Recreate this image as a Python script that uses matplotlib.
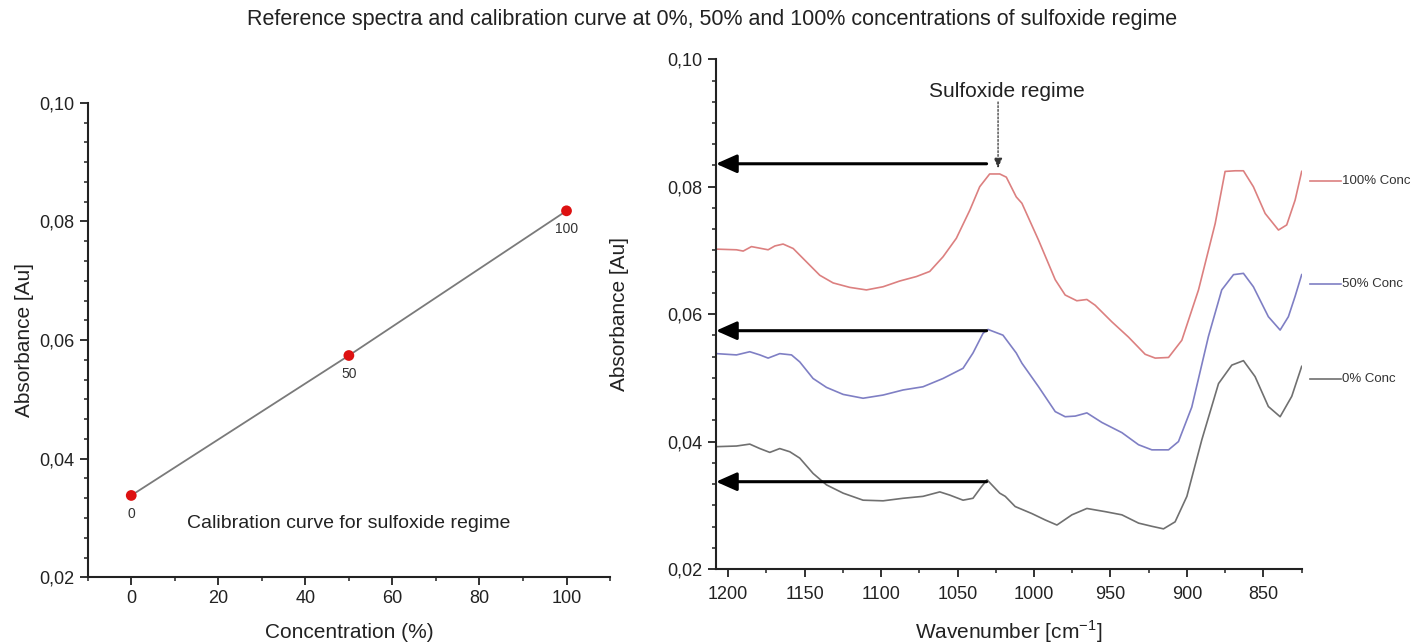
import matplotlib
matplotlib.use('Agg')
import matplotlib.pyplot as plt
from matplotlib.ticker import MultipleLocator, AutoMinorLocator, FuncFormatter
from matplotlib.lines import Line2D
import numpy as np

plt.rcParams['font.family'] = ['Liberation Sans', 'DejaVu Sans']
plt.rcParams['mathtext.fontset'] = 'custom'
plt.rcParams['mathtext.rm'] = 'Liberation Sans'

# calibration curve
conc = [0, 50, 100]
conc_abs = [0.0338, 0.0574, 0.0818]
conc_labels = ['0', '50', '100']

# spectra (wavenumber, absorbance)
wn_100 = [1207.6, 1194.6, 1190.2, 1184.8, 1180.4, 1173.9, 1169.5, 1164.1, 1157.5, 1148.8,
          1140.1, 1131.4, 1120.5, 1109.6, 1098.7, 1087.8, 1076.9, 1068.2, 1059.5, 1050.8,
          1042.0, 1035.5, 1029.0, 1022.4, 1018.1, 1011.6, 1007.9, 997.0, 986.1, 979.6,
          972.0, 965.4, 960.0, 949.1, 938.2, 927.3, 920.7, 912.0, 903.3, 892.4,
          881.5, 875.0, 868.4, 863.0, 856.5, 848.8, 840.1, 834.7, 829.2, 824.9]
abs_100 = [0.0702, 0.0701, 0.0699, 0.0706, 0.0704, 0.0701, 0.0707, 0.0710, 0.0703, 0.0682,
           0.0661, 0.0649, 0.0642, 0.0638, 0.0643, 0.0652, 0.0659, 0.0667, 0.0690, 0.0719,
           0.0763, 0.0800, 0.0820, 0.0820, 0.0815, 0.0784, 0.0774, 0.0716, 0.0654, 0.0630,
           0.0621, 0.0623, 0.0614, 0.0588, 0.0564, 0.0537, 0.0531, 0.0532, 0.0559, 0.0638,
           0.0742, 0.0824, 0.0825, 0.0825, 0.0800, 0.0758, 0.0732, 0.0740, 0.0779, 0.0824]

wn_50 = [1207.6, 1194.6, 1185.9, 1179.3, 1173.9, 1166.3, 1158.6, 1153.2, 1144.5, 1135.7,
         1124.8, 1111.8, 1098.7, 1085.6, 1072.6, 1059.5, 1046.4, 1039.9, 1033.3, 1030.1,
         1020.3, 1011.6, 1007.9, 997.0, 986.1, 979.6, 973.0, 965.4, 955.6, 942.5,
         931.6, 922.9, 912.0, 905.5, 896.8, 885.9, 877.2, 869.5, 863.0, 856.5,
         846.7, 839.0, 833.6, 829.2, 824.9]
abs_50 = [0.0538, 0.0536, 0.0541, 0.0536, 0.0531, 0.0538, 0.0536, 0.0525, 0.0499, 0.0485,
          0.0474, 0.0468, 0.0473, 0.0481, 0.0486, 0.0499, 0.0515, 0.0539, 0.0570, 0.0576,
          0.0567, 0.0539, 0.0523, 0.0486, 0.0447, 0.0439, 0.0440, 0.0445, 0.0430, 0.0414,
          0.0395, 0.0387, 0.0387, 0.0400, 0.0454, 0.0565, 0.0638, 0.0662, 0.0664, 0.0643,
          0.0596, 0.0575, 0.0596, 0.0628, 0.0662]

wn_0 = [1207.6, 1194.6, 1185.9, 1179.3, 1172.8, 1166.3, 1159.7, 1153.2, 1144.5, 1135.7,
        1124.8, 1111.8, 1098.7, 1085.6, 1072.6, 1061.6, 1055.1, 1046.4, 1039.9, 1034.4,
        1030.7, 1022.4, 1018.8, 1012.3, 1001.4, 992.7, 985.0, 975.2, 965.4, 953.4,
        942.5, 931.6, 922.9, 915.3, 907.7, 900.0, 890.2, 879.3, 870.6, 863.0,
        855.4, 846.7, 839.0, 831.4, 824.9]
abs_0 = [0.0392, 0.0393, 0.0396, 0.0389, 0.0383, 0.0389, 0.0384, 0.0374, 0.0350, 0.0332,
         0.0319, 0.0308, 0.0307, 0.0311, 0.0314, 0.0321, 0.0316, 0.0308, 0.0311, 0.0329,
         0.0340, 0.0319, 0.0314, 0.0298, 0.0287, 0.0277, 0.0269, 0.0285, 0.0295, 0.0290,
         0.0285, 0.0272, 0.0267, 0.0263, 0.0274, 0.0314, 0.0403, 0.0491, 0.0520, 0.0527,
         0.0502, 0.0455, 0.0439, 0.0471, 0.0518]

series_names = ['100% Conc', '50% Conc', '0% Conc']
series_colors = ['#dc8080', '#7f7fc4', '#707070']
label_levels = [0.0809, 0.0647, 0.0498]

# horizontal arrows from the sulfoxide peak to the y axis
arrow_levels = [0.0836, 0.0574, 0.0337]
arrow_start = 1031
peak_wn = 1023.5
peak_top = 0.0829

txt = '#222222'
comma = FuncFormatter(lambda v, p: ('%.2f' % v).replace('.', ','))

fig = plt.figure(figsize=(14.24, 6.43), dpi=100)
fig.text(0.5, 0.969, 'Reference spectra and calibration curve at 0%, 50% and 100% concentrations of sulfoxide regime',
         ha='center', va='center', fontsize=15.5, color=txt)

def style(ax):
    for s in ['top', 'right']:
        ax.spines[s].set_visible(False)
    for s in ['left', 'bottom']:
        ax.spines[s].set_linewidth(1.5)
        ax.spines[s].set_color('#222222')
    ax.tick_params(which='major', direction='out', length=6, width=1.3, labelsize=13,
                   colors='#222222', labelcolor=txt)
    ax.tick_params(which='minor', direction='out', length=3, width=1.1, colors='#222222')
    ax.yaxis.set_major_locator(MultipleLocator(0.02))
    ax.yaxis.set_minor_locator(AutoMinorLocator(6))
    ax.yaxis.set_major_formatter(comma)
    ax.xaxis.set_minor_locator(AutoMinorLocator(2))

# left: calibration curve
ax1 = fig.add_axes([0.0616, 0.1022, 0.3668, 0.7378])
style(ax1)
ax1.plot(conc, conc_abs, color='#7a7a7a', lw=1.3, zorder=2)
ax1.scatter(conc, conc_abs, s=60, color='#dd1111', zorder=3, edgecolors='none')
for c, a, l in zip(conc, conc_abs, conc_labels):
    ax1.annotate(l, (c, a), xytext=(0, -13), textcoords='offset points',
                 ha='center', va='center', fontsize=10, color='#333333')
ax1.set_xlim(-10, 110)
ax1.set_ylim(0.02, 0.10)
ax1.xaxis.set_major_locator(MultipleLocator(20))
ax1.text(0.5, 0.113, 'Calibration curve for sulfoxide regime', transform=ax1.transAxes,
         ha='center', va='center', fontsize=14, color=txt)
ax1.set_xlabel('Concentration (%)', fontsize=15, color=txt, labelpad=11)
ax1.set_ylabel('Absorbance [Au]', fontsize=15, color=txt, labelpad=4)

# right: spectra
ax2 = fig.add_axes([0.5028, 0.1151, 0.4112, 0.7927])
style(ax2)
ax2.tick_params(axis='x', which='major', pad=6)
for wn, ab, col in zip([wn_100, wn_50, wn_0], [abs_100, abs_50, abs_0], series_colors):
    ax2.plot(wn, ab, color=col, lw=1.2)
ax2.set_xlim(1208, 825)
ax2.set_ylim(0.02, 0.10)
ax2.xaxis.set_major_locator(MultipleLocator(50))
ax2.set_xlabel(r'Wavenumber [cm$^{\mathregular{-1}}$]', fontsize=15, color=txt, labelpad=11)
ax2.set_ylabel('Absorbance [Au]', fontsize=15, color=txt, labelpad=28)

for lvl in arrow_levels:
    ax2.annotate('', xy=(0, lvl), xycoords=('axes fraction', 'data'),
                 xytext=(arrow_start, lvl), textcoords='data',
                 arrowprops=dict(arrowstyle='-|>,head_length=0.9,head_width=0.4',
                                 color='black', lw=2.2, mutation_scale=14, shrinkA=0, shrinkB=0))

ax2.text(1017.6, 0.0949, 'Sulfoxide regime', ha='center', va='center', fontsize=15, color=txt)
ax2.annotate('', xy=(peak_wn, peak_top), xytext=(peak_wn, 0.0933),
             arrowprops=dict(arrowstyle='-|>,head_length=0.6,head_width=0.25', color='#333333',
                             lw=0.9, ls=(0, (1.5, 1.5)), mutation_scale=10, shrinkA=0, shrinkB=0))

for name, col, lvl in zip(series_names, series_colors, label_levels):
    y = ax2.transLimits.transform((900, lvl))[1]
    ax2.add_line(Line2D([1.0145, 1.067], [y, y], transform=ax2.transAxes, color=col,
                        lw=1.2, clip_on=False))
    ax2.text(1.069, y, name, transform=ax2.transAxes, ha='left', va='center',
             fontsize=9.5, color='#333333')

fig.savefig('out.png', dpi=100)
